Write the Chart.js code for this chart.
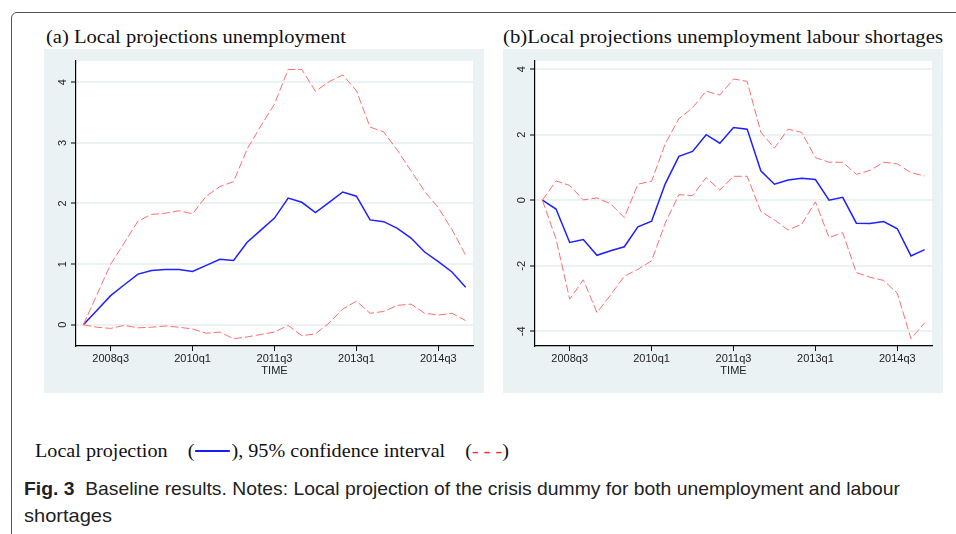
<!DOCTYPE html>
<html>
<head>
<meta charset="utf-8">
<script src="https://cdn.jsdelivr.net/npm/chart.js@4.4.0/dist/chart.umd.min.js"></script>
<style>
  body { margin: 0; width: 956px; height: 534px; background: #fff; position: relative; overflow: hidden; }
  .frame { position: absolute; left: 11px; top: 12px; width: 1000px; height: 600px; border: 1px solid #555; border-top-left-radius: 6px; }
  .serif { font-family: "Liberation Serif", "DejaVu Serif", serif; color: #111; white-space: nowrap; position: absolute; transform-origin: left center; }
  .panel { position: absolute; top: 49px; width: 440px; height: 344px; background: #eaf2f3; }
  .panel canvas { display: block; }
  .caption { position: absolute; left: 24px; font-family: "Liberation Sans Narrow", "Liberation Sans", sans-serif; font-size: 19px; color: #222; white-space: nowrap; transform-origin: left center; }
  .bl { display: inline-block; width: 31px; height: 2px; background: #1a1aff; vertical-align: middle; margin: 0 1px 3px 1px; }
  .rd { color: #ff2a2a; }
</style>
</head>
<body>
<div class="frame"></div>

<div class="serif" id="titleA" data-w="300" style="left:46px; top:27px; font-size:18px;">(a) Local projections unemployment</div>
<div class="serif" id="titleB" data-w="440" style="left:503px; top:27px; font-size:18px;">(b)Local projections unemployment labour shortages</div>

<div class="panel" style="left:44px;"><canvas id="chartA" width="440" height="344"></canvas></div>
<div class="panel" style="left:503px;"><canvas id="chartB" width="440" height="344"></canvas></div>

<div class="serif" id="legendLine" data-w="474" style="left:35px; top:441px; font-size:18px;">Local projection&nbsp;&nbsp;&nbsp;&nbsp;(<span class="bl"></span>), 95% confidence interval&nbsp;&nbsp;&nbsp;&nbsp;(<span class="rd">- - -</span>)</div>

<div class="caption" id="cap1" data-w="876" style="top:478px;"><b>Fig. 3</b>&nbsp; Baseline results. Notes: Local projection of the crisis dummy for both unemployment and labour</div>
<div class="caption" id="cap2" data-w="88" style="top:505px;">shortages</div>

<script>
// Quarters 2008q1 - 2015q1
const quarters = ['2008q1','2008q2','2008q3','2008q4','2009q1','2009q2','2009q3','2009q4',
  '2010q1','2010q2','2010q3','2010q4','2011q1','2011q2','2011q3','2011q4',
  '2012q1','2012q2','2012q3','2012q4','2013q1','2013q2','2013q3','2013q4',
  '2014q1','2014q2','2014q3','2014q4','2015q1'];
const xTickLabels = ['2008q3','2010q1','2011q3','2013q1','2014q3'];

// (a) unemployment
const unempLP    = [0, 0.24, 0.48, 0.66, 0.835, 0.895, 0.91, 0.91, 0.88, 0.98, 1.08, 1.06, 1.36, 1.56, 1.76, 2.09, 2.02, 1.85, 2.02, 2.19, 2.12, 1.73, 1.70, 1.59, 1.43, 1.20, 1.04, 0.87, 0.62];
const unempUpper = [0, 0.5, 1.00, 1.35, 1.71, 1.82, 1.84, 1.88, 1.83, 2.12, 2.28, 2.36, 2.90, 3.28, 3.64, 4.21, 4.21, 3.85, 4.01, 4.12, 3.86, 3.26, 3.18, 2.88, 2.54, 2.20, 1.93, 1.57, 1.15];
const unempLower = [0, -0.04, -0.06, -0.01, -0.05, -0.04, -0.02, -0.04, -0.07, -0.14, -0.12, -0.23, -0.20, -0.16, -0.12, -0.01, -0.18, -0.15, 0.03, 0.26, 0.39, 0.19, 0.22, 0.32, 0.34, 0.19, 0.16, 0.19, 0.07];
const unempTicks = [0, 1, 2, 3, 4];

// (b) unemployment labour shortages
const shortLP    = [0, -0.27, -1.29, -1.20, -1.68, -1.54, -1.42, -0.81, -0.64, 0.50, 1.34, 1.49, 2.00, 1.74, 2.22, 2.17, 0.90, 0.49, 0.62, 0.67, 0.63, 0.0, 0.09, -0.70, -0.71, -0.65, -0.87, -1.70, -1.51];
const shortUpper = [0, 0.59, 0.45, 0.01, 0.07, -0.11, -0.53, 0.49, 0.58, 1.72, 2.49, 2.82, 3.33, 3.21, 3.70, 3.63, 2.08, 1.59, 2.17, 2.07, 1.30, 1.16, 1.16, 0.79, 0.91, 1.16, 1.11, 0.84, 0.74];
const shortLower = [0, -1.18, -3.02, -2.43, -3.43, -2.89, -2.32, -2.11, -1.85, -0.70, 0.17, 0.14, 0.69, 0.31, 0.73, 0.73, -0.34, -0.60, -0.91, -0.73, -0.05, -1.14, -0.99, -2.21, -2.35, -2.45, -2.84, -4.23, -3.74];
const shortTicks = [-4, -2, 0, 2, 4];

const toPoints = arr => arr.map((v, i) => ({ x: i, y: v }));

// white plot region + vertical y tick labels (Stata style)
const panelPlugin = {
  id: 'panelPlugin',
  beforeDraw(chart) {
    const a = chart.chartArea, c = chart.ctx;
    c.save();
    c.fillStyle = '#ffffff';
    c.fillRect(a.left, a.top, a.right - a.left, a.bottom - a.top);
    c.restore();
  },
  afterDraw(chart) {
    const y = chart.scales.y, c = chart.ctx;
    c.save();
    c.fillStyle = '#222';
    c.font = '11px "Liberation Sans", Arial, sans-serif';
    c.textAlign = 'center';
    c.textBaseline = 'middle';
    y.ticks.forEach(t => {
      const py = y.getPixelForValue(t.value);
      c.save();
      c.translate(y.right - 13, py);
      c.rotate(-Math.PI / 2);
      c.fillText(String(t.value), 0, 0);
      c.restore();
    });
    c.restore();
  }
};

function makePanel(id, lp, upper, lower, yTicks, yMin, yMax) {
  return new Chart(document.getElementById(id), {
    type: 'line',
    data: {
      datasets: [
        { data: toPoints(upper), borderColor: '#ff6e6e', borderWidth: 1, borderDash: [8, 3], pointRadius: 0, tension: 0 },
        { data: toPoints(lower), borderColor: '#ff6e6e', borderWidth: 1, borderDash: [8, 3], pointRadius: 0, tension: 0 },
        { data: toPoints(lp), borderColor: '#1f1fff', borderWidth: 1.5, pointRadius: 0, tension: 0 }
      ]
    },
    options: {
      responsive: false,
      animation: false,
      layout: { padding: { top: 12, right: 11, left: 0, bottom: 15 } },
      plugins: { legend: { display: false }, tooltip: { enabled: false } },
      scales: {
        x: {
          type: 'linear',
          min: -0.54,
          max: quarters.length - 1 + 0.54,
          afterBuildTicks: s => { s.ticks = xTickLabels.map(l => ({ value: quarters.indexOf(l) })); },
          afterFit: s => { s.height = 32; },
          ticks: {
            callback: v => quarters[v],
            autoSkip: false, maxRotation: 0, padding: 1,
            color: '#222', font: { family: '"Liberation Sans", Arial, sans-serif', size: 11 }
          },
          grid: { drawOnChartArea: false, drawTicks: true, tickLength: 5, tickColor: '#000', tickWidth: 1 },
          border: { display: true, color: '#000', width: 1.2 },
          title: { display: true, text: 'TIME', color: '#222', padding: 0, font: { family: '"Liberation Sans", Arial, sans-serif', size: 11 } }
        },
        y: {
          min: yMin, max: yMax,
          afterBuildTicks: s => { s.ticks = yTicks.map(v => ({ value: v })); },
          afterFit: s => { s.width = 32; },
          ticks: { display: false },
          grid: { color: '#eaf2f3', lineWidth: 2, drawTicks: true, tickLength: 5, tickColor: '#000', tickWidth: 1 },
          border: { display: true, color: '#000', width: 1.2 }
        }
      }
    },
    plugins: [panelPlugin]
  });
}

makePanel('chartA', unempLP, unempUpper, unempLower, unempTicks, -0.35, 4.35);
makePanel('chartB', shortLP, shortUpper, shortLower, shortTicks, -4.45, 4.25);

// squeeze text blocks to the widths seen in the figure
document.querySelectorAll('[data-w]').forEach(el => {
  const w = el.getBoundingClientRect().width;
  el.style.transform = 'scaleX(' + (parseFloat(el.dataset.w) / w) + ')';
});
</script>
</body>
</html>
